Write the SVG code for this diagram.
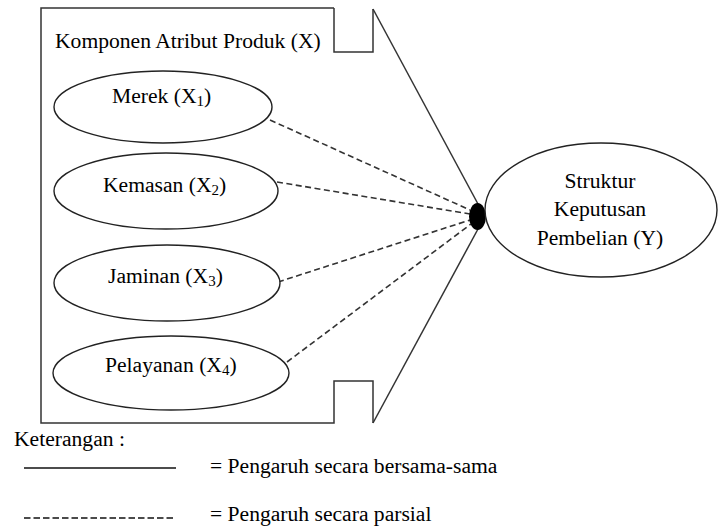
<svg xmlns="http://www.w3.org/2000/svg" width="723" height="527" viewBox="0 0 723 527">
<style>
text{font-family:"Liberation Serif","Times New Roman",serif;font-size:21.6px;fill:#000}
.c{text-anchor:middle}
.sub{font-size:15px}
.node{fill:#fff;stroke:#222;stroke-width:1.4}
.solid{fill:none;stroke:#333;stroke-width:1.5}
.dash{fill:none;stroke:#333;stroke-width:1.6;stroke-dasharray:6 3.5}
</style>
<rect width="723" height="527" fill="#fff"/>
<g id="frame">
<path class="solid" d="M334,8 H41 V423 H334 V381 H373 V423 M334,8 V52 H373 V9"/>
<text x="55" y="48">Komponen Atribut Produk (X)</text>
</g>
<g id="connectors">
<line class="solid" x1="373" y1="9" x2="478" y2="204"/>
<line class="solid" x1="373" y1="423" x2="478" y2="229"/>
<line class="dash" x1="270" y1="120" x2="470" y2="210"/>
<line class="dash" x1="277" y1="182" x2="470" y2="214"/>
<line class="dash" x1="278" y1="282" x2="470" y2="220"/>
<line class="dash" x1="287" y1="362" x2="471" y2="224"/>
<ellipse cx="477.5" cy="216.5" rx="8.5" ry="13.5" fill="#000"/>
</g>
<g id="x1">
<ellipse class="node" cx="163" cy="107" rx="109" ry="36"/>
<text x="112" y="103">Merek (X<tspan class="sub" dy="3">1</tspan><tspan dy="-3">)</tspan></text>
</g>
<g id="x2">
<ellipse class="node" cx="166" cy="191" rx="112" ry="38"/>
<text x="103" y="192">Kemasan (X<tspan class="sub" dy="3">2</tspan><tspan dy="-3">)</tspan></text>
</g>
<g id="x3">
<ellipse class="node" cx="167" cy="283" rx="113" ry="38"/>
<text x="108" y="283">Jaminan (X<tspan class="sub" dy="3">3</tspan><tspan dy="-3">)</tspan></text>
</g>
<g id="x4">
<ellipse class="node" cx="171" cy="373" rx="118" ry="37"/>
<text x="105" y="372">Pelayanan (X<tspan class="sub" dy="3">4</tspan><tspan dy="-3">)</tspan></text>
</g>
<g id="y">
<ellipse class="node" cx="601" cy="210" rx="116" ry="67"/>
<text class="c" x="600" y="188">Struktur</text>
<text class="c" x="600" y="216">Keputusan</text>
<text class="c" x="600" y="245">Pembelian (Y)</text>
</g>
<g id="legend">
<text x="14" y="446">Keterangan :</text>
<line x1="24" y1="468" x2="176" y2="468" stroke="#111" stroke-width="1.3"/>
<text x="210" y="473">= Pengaruh secara bersama-sama</text>
<line x1="24" y1="518" x2="174" y2="518" stroke="#111" stroke-width="1.3" stroke-dasharray="6.5 3"/>
<text x="210" y="521">= Pengaruh secara parsial</text>
</g>
</svg>
